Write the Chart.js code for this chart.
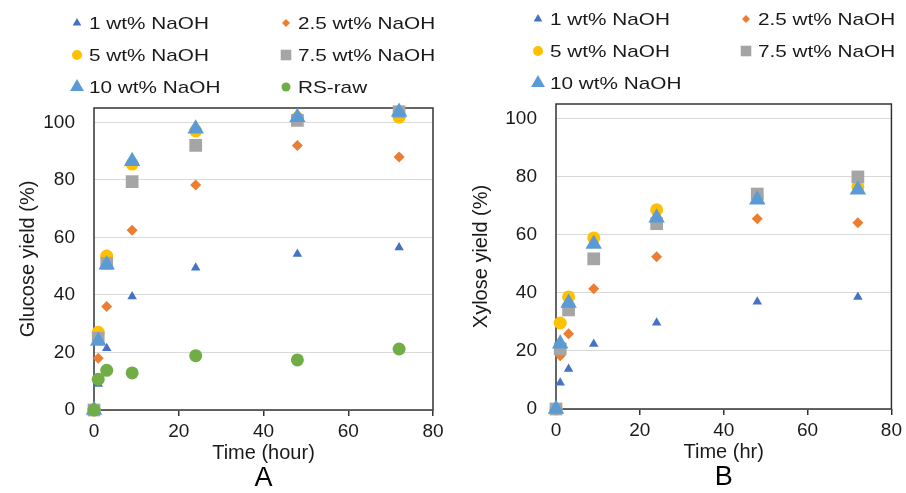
<!DOCTYPE html>
<html>
<head>
<meta charset="utf-8">
<script src="https://cdn.jsdelivr.net/npm/chart.js@4.4.1/dist/chart.umd.min.js"></script>
<style>
  body { margin: 0; background: #fff; }
  .wrap { display: flex; width: 906px; height: 493px; }
  canvas { display: block; }
</style>
</head>
<body>
<div class="wrap">
  <canvas id="glucoseChart" width="453" height="493"></canvas>
  <canvas id="xyloseChart" width="453" height="493"></canvas>
</div>
<script>
// sampling times (hours)
const times = [0, 1, 3, 9, 24, 48, 72];
const seriesNames = ['1 wt% NaOH', '2.5 wt% NaOH', '5 wt% NaOH', '7.5 wt% NaOH', '10 wt% NaOH', 'RS-raw'];

// glucose yield (%)
const glucose1 = [0, 9, 21.5, 39.5, 49.5, 54.2, 56.5];
const glucose25 = [0, 18, 36, 62.5, 78.2, 92, 88];
const glucose5 = [0, 27, 53.5, 85.5, 97, 101.5, 101.8];
const glucose75 = [0, 25, 51, 79.4, 92, 100.7, 103.7];
const glucose10 = [0, 24, 50.5, 86.5, 97.8, 101.8, 103.6];
const glucoseRaw = [0, 10.7, 13.8, 12.9, 18.9, 17.4, 21.2];

// xylose yield (%)
const xylose1 = [0, 9, 13.8, 22.4, 29.7, 36.9, 38.6];
const xylose25 = [0, 18.3, 25.9, 41.4, 52.4, 65.5, 64.1];
const xylose5 = [0, 29.6, 38.6, 58.9, 68.6, 73, 76.5];
const xylose75 = [0, 20.7, 34.1, 51.7, 63.8, 74, 79.9];
const xylose10 = [0, 22.5, 36.5, 56.8, 65.8, 72, 75.5];

// tick labels
const xTicks = [0, 20, 40, 60, 80];
const yTicks = [0, 20, 40, 60, 80, 100];

// marker look per series (same order as seriesNames)
const markers = [
  { color: '#4472C4', style: 'triangle', r: 5.5, lr: 5 },
  { color: '#ED7D31', style: 'rectRot', r: 5.5, lr: 4 },
  { color: '#FFC000', style: 'circle', r: 6.5, lr: 5 },
  { color: '#A5A5A5', style: 'rect', r: 9, lr: 7.5 },
  { color: '#5B9BD5', style: 'triangle', r: 9.5, lr: 8 },
  { color: '#70AD47', style: 'circle', r: 6.5, lr: 4.5 }
];

Chart.defaults.font.family = '"Liberation Sans", Arial, sans-serif';
Chart.defaults.color = '#1a1a1a';

// plot frame + two-column legend, Excel style
const frameLegend = {
  id: 'frameLegend',
  beforeDatasetsDraw(chart) {
    const { ctx, chartArea: a } = chart;
    ctx.save();
    ctx.strokeStyle = '#333';
    ctx.lineWidth = 1.5;
    ctx.strokeRect(a.left, a.top, a.right - a.left, a.bottom - a.top);
    ctx.restore();
  },
  afterDraw(chart, args, opts) {
    const ctx = chart.ctx;
    ctx.save();
    ctx.font = '17px "Liberation Sans", Arial, sans-serif';
    ctx.textBaseline = 'middle';
    chart.data.datasets.forEach((ds, i) => {
      const m = markers[i];
      const x = opts.cols[i % 2];
      const y = opts.rows[Math.floor(i / 2)];
      ctx.fillStyle = m.color;
      Chart.helpers.drawPoint(ctx, { pointStyle: m.style, radius: m.lr, borderWidth: 0, rotation: 0 }, x, y);
      ctx.save();
      ctx.translate(x + opts.gap, y + 1);
      ctx.scale(1.22, 1);
      ctx.fillStyle = '#1a1a1a';
      ctx.fillText(ds.label, 0, 0);
      ctx.restore();
    });
    ctx.restore();
  }
};

const makeDatasets = (series) => series.map((vals, i) => ({
  label: seriesNames[i],
  data: times.map((t, j) => ({ x: t, y: vals[j] })),
  pointStyle: markers[i].style,
  pointRadius: markers[i].r,
  pointHoverRadius: markers[i].r,
  pointBackgroundColor: markers[i].color,
  backgroundColor: markers[i].color,
  pointBorderWidth: 0,
  showLine: false,
  clip: false,
  order: series.length - i
}));

const makeChart = (id, cfg) => new Chart(document.getElementById(id), {
  type: 'scatter',
  data: { datasets: makeDatasets(cfg.series) },
  options: {
    responsive: false,
    animation: false,
    layout: { padding: cfg.padding },
    plugins: {
      legend: { display: false },
      tooltip: { enabled: false },
      title: {
        display: true,
        text: cfg.panel,
        position: 'bottom',
        fullSize: false,
        padding: 0,
        color: '#000',
        font: { size: 27, weight: 'normal', lineHeight: 1 }
      },
      frameLegend: cfg.legend
    },
    scales: {
      x: {
        type: 'linear',
        min: 0,
        max: 80,
        afterBuildTicks: s => { s.ticks = xTicks.map(v => ({ value: v })); },
        afterFit: s => { s.height = 55; },
        border: { display: false },
        grid: { drawOnChartArea: false, drawTicks: true, tickLength: 6, color: '#333', lineWidth: 1.5 },
        ticks: { padding: 4, font: { size: 19 } },
        title: { display: true, text: cfg.xTitle, padding: 0, font: { size: 20 } }
      },
      y: {
        min: 0,
        max: 105,
        afterBuildTicks: s => { s.ticks = yTicks.map(v => ({ value: v })); },
        afterFit: s => { s.width = cfg.yWidth; },
        border: { display: false },
        grid: { color: '#d9d9d9', lineWidth: 1, drawTicks: false },
        ticks: { padding: 19, font: { size: 19 } },
        title: { display: true, text: cfg.yTitle, padding: { top: 16, bottom: 0 }, font: { size: 20 } }
      }
    }
  },
  plugins: [frameLegend]
});

makeChart('glucoseChart', {
  series: [glucose1, glucose25, glucose5, glucose75, glucose10, glucoseRaw],
  panel: 'A',
  xTitle: 'Time (hour)',
  yTitle: 'Glucose yield (%)',
  yWidth: 94,
  padding: { top: 108, right: 20, bottom: 1, left: 0 },
  legend: { cols: [77, 286], rows: [23, 55, 87], gap: 12 }
});

makeChart('xyloseChart', {
  series: [xylose1, xylose25, xylose5, xylose75, xylose10],
  panel: 'B',
  xTitle: 'Time (hr)',
  yTitle: 'Xylose yield (%)',
  yWidth: 103,
  padding: { top: 104, right: 13, bottom: 2, left: 0 },
  legend: { cols: [85, 293], rows: [19, 51, 83], gap: 12 }
});
</script>
</body>
</html>
